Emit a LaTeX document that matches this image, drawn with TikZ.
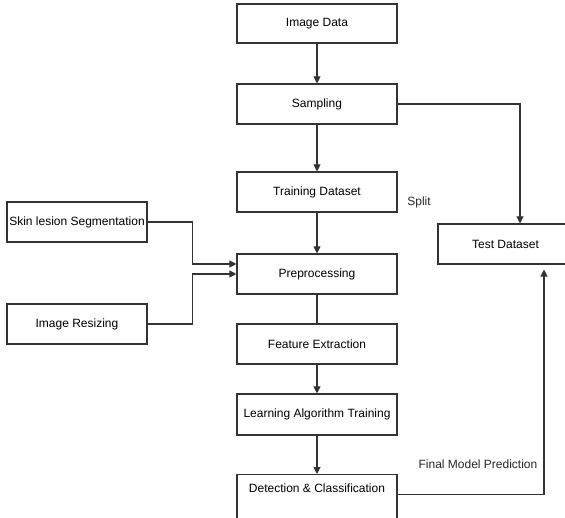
\documentclass[tikz,border=0pt]{standalone}
\usepackage{fontspec}
\setmainfont{Liberation Sans}
\usetikzlibrary{arrows.meta,positioning}
\tikzset{
  pbox/.style={rectangle, draw=black!80, line width=1.1pt, fill=white, minimum width=160pt, minimum height=40pt, inner sep=0pt, font=\fontsize{12}{14}\selectfont},
  sbox/.style={pbox, minimum width=140pt},
  lbl/.style={font=\fontsize{12}{14}\selectfont, text=black!85},
  arr/.style={-{Triangle[length=7pt,width=7pt]}, line width=1.1pt, draw=black!80},
  ln/.style={line width=1.1pt, draw=black!80},
}

\begin{document}
\begin{tikzpicture}[x=1pt,y=-1pt]
  \useasboundingbox (0,0) rectangle (565,518);
  \clip (0,0) rectangle (565,518);

  % --- Main column ---
  \node[pbox, minimum height=39pt] (img) at (317,23.5) {Image Data};
  \node[pbox] (samp) at (317,104) {Sampling};
  \node[pbox] (train) at (317,192) {Training Dataset};
  \node[pbox] (prep) at (317,274) {Preprocessing};
  \node[pbox] (feat) at (317,344) {Feature Extraction};
  \node[pbox, minimum height=41pt] (learn) at (317,414.5) {Learning Algorithm Training};
  \node[pbox, anchor=north, minimum height=0pt, text height=18pt, text depth=30pt] (det) at (317,474) {Detection \& Classification};

  % --- Side inputs ---
  \node[sbox] (seg) at (77,222) {Skin lesion Segmentation};
  \node[sbox] (resz) at (77,324) {Image Resizing};

  % --- Test set ---
  \node[pbox, minimum width=135pt] (test) at (505.5,244) {Test Dataset};

  % Main flow
  \draw[arr] (img) -- (samp);
  \draw[arr] (samp) -- (train);
  \draw[arr] (train) -- (prep);
  \draw[ln] (prep) -- (feat);
  \draw[arr] (feat) -- (learn);
  \draw[arr] (learn) -- (det);

  % Inputs to preprocessing
  \draw[arr] (seg.east) -- ++(45,0) |- ([yshift=10pt]prep.west);
  \draw[arr] (resz.east) -- ++(45,0) |- (prep.west);

  % Split and prediction
  \draw[arr] (samp.east) -| ([xshift=14.5pt]test.north);
  \draw[arr, shorten >=5pt] ([yshift=4pt]det.east) -| ([xshift=38.5pt]test.south);

  \node[lbl] (split) at (419,202) {Split};
  \node[lbl] (fmp) at (478,464) {Final Model Prediction};
\end{tikzpicture}
\end{document}
